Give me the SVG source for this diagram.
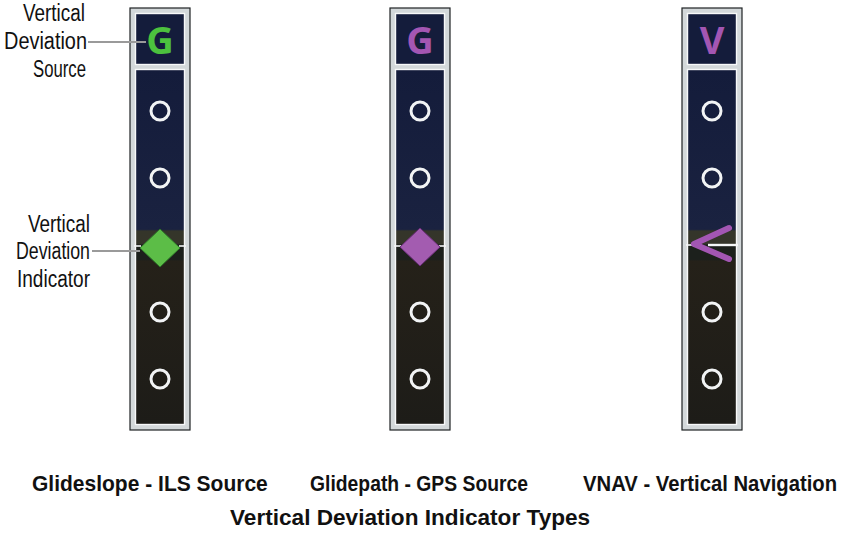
<svg xmlns="http://www.w3.org/2000/svg" width="846" height="535" viewBox="0 0 846 535">
<defs>
<style>
.lbl{font-family:"Liberation Sans",Arial,sans-serif;font-size:23px;fill:#111;}
.cap{font-family:"Liberation Sans",Arial,sans-serif;font-size:22px;font-weight:bold;fill:#111;}
.frame{fill:#d3d8da;stroke:#1e2224;stroke-width:1.2;}
.cell{stroke:#f7f8f9;stroke-width:1.4;}
.top{fill:#141c3b;}
.low{fill:url(#sky);}
.dot{fill:none;stroke:#f2f4f5;stroke-width:3;}
.src{font-family:"Open Sans","DejaVu Sans",sans-serif;font-size:38px;font-weight:bold;text-anchor:middle;}
.leader{stroke:#9a9a9a;stroke-width:2;fill:none;}
.tick{stroke:#f4f6f7;stroke-width:1.6;}
</style>
<linearGradient id="sky" x1="0" y1="70" x2="0" y2="424" gradientUnits="userSpaceOnUse">
<stop offset="0" stop-color="#141c3b"/>
<stop offset="0.45" stop-color="#1a2240"/>
<stop offset="0.455" stop-color="#34352a"/>
<stop offset="0.49" stop-color="#35352a"/>
<stop offset="0.495" stop-color="#1c201c"/>
<stop offset="0.535" stop-color="#1c201c"/>
<stop offset="0.54" stop-color="#252119"/>
<stop offset="1" stop-color="#1d1c18"/>
</linearGradient>
</defs>
<rect width="846" height="535" fill="#ffffff"/>

<g id="bar-ils">
<rect class="frame" x="130" y="8" width="60" height="422"/>
<rect class="cell top" x="135.5" y="13.5" width="49" height="51"/>
<rect class="cell low" x="135.5" y="69.5" width="49" height="355"/>
<text class="src" x="160" y="54" fill="#4cc13e">G</text>
<circle class="dot" cx="160" cy="111" r="9"/>
<circle class="dot" cx="160" cy="178" r="9"/>
<circle class="dot" cx="160" cy="312" r="9"/>
<circle class="dot" cx="160" cy="379" r="9"/>
<line class="tick" x1="134" y1="246" x2="141" y2="246"/>
<line class="tick" x1="179" y1="246" x2="186" y2="246"/>
<polygon points="160,229 180,248 160,267 140,248" fill="#5cbd47" stroke="#2f7a2a" stroke-width="1"/>
</g>

<g id="bar-gps">
<rect class="frame" x="390" y="8" width="60" height="422"/>
<rect class="cell top" x="395.5" y="13.5" width="49" height="51"/>
<rect class="cell low" x="395.5" y="69.5" width="49" height="355"/>
<text class="src" x="420" y="54" fill="#a356b3">G</text>
<circle class="dot" cx="420" cy="111" r="9"/>
<circle class="dot" cx="420" cy="178" r="9"/>
<circle class="dot" cx="420" cy="312" r="9"/>
<circle class="dot" cx="420" cy="379" r="9"/>
<line class="tick" x1="394" y1="246" x2="401" y2="246"/>
<line class="tick" x1="439" y1="246" x2="446" y2="246"/>
<polygon points="420,228 440,247 420,266 400,247" fill="#a35cb0" stroke="#6a2e78" stroke-width="1"/>
</g>

<g id="bar-vnav">
<rect class="frame" x="682" y="8" width="60" height="422"/>
<rect class="cell top" x="687.5" y="13.5" width="49" height="51"/>
<rect class="cell low" x="687.5" y="69.5" width="49" height="355"/>
<text class="src" x="712" y="54" fill="#a356b3">V</text>
<circle class="dot" cx="712" cy="111" r="9"/>
<circle class="dot" cx="712" cy="178" r="9"/>
<circle class="dot" cx="712" cy="312" r="9"/>
<circle class="dot" cx="712" cy="379" r="9"/>
<line class="tick" x1="686" y1="245" x2="693" y2="245"/>
<line x1="708" y1="245" x2="738" y2="245" stroke="#f4f6f7" stroke-width="2.4"/>
<polyline points="729,228 694,244 729,259" fill="none" stroke="#a356b3" stroke-width="6" stroke-linecap="round" stroke-linejoin="round"/>
</g>

<g id="callout-source">
<text class="lbl" x="23" y="21" textLength="62" lengthAdjust="spacingAndGlyphs">Vertical</text>
<text class="lbl" x="4" y="49" textLength="83" lengthAdjust="spacingAndGlyphs">Deviation</text>
<text class="lbl" x="33" y="77" textLength="53" lengthAdjust="spacingAndGlyphs">Source</text>
</g>
<g id="callout-indicator">
<text class="lbl" x="28" y="232" textLength="62" lengthAdjust="spacingAndGlyphs">Vertical</text>
<text class="lbl" x="16" y="259" textLength="74" lengthAdjust="spacingAndGlyphs">Deviation</text>
<text class="lbl" x="17" y="287" textLength="73" lengthAdjust="spacingAndGlyphs">Indicator</text>
</g>

<g id="connectors">
<line class="leader" x1="88" y1="42" x2="146" y2="42"/>
<line class="leader" x1="92" y1="251" x2="140" y2="251"/>
</g>

<g id="captions">
<text class="cap" transform="translate(32,491) scale(0.87,1)" textLength="271" lengthAdjust="spacingAndGlyphs">Glideslope - ILS Source</text>
<text class="cap" transform="translate(310,491) scale(0.87,1)" textLength="250.6" lengthAdjust="spacingAndGlyphs">Glidepath - GPS Source</text>
<text class="cap" transform="translate(583,491) scale(0.87,1)" textLength="292" lengthAdjust="spacingAndGlyphs">VNAV - Vertical Navigation</text>
<text class="cap" transform="translate(230,525) scale(0.87,1)" textLength="414" lengthAdjust="spacingAndGlyphs">Vertical Deviation Indicator Types</text>
</g>
</svg>
